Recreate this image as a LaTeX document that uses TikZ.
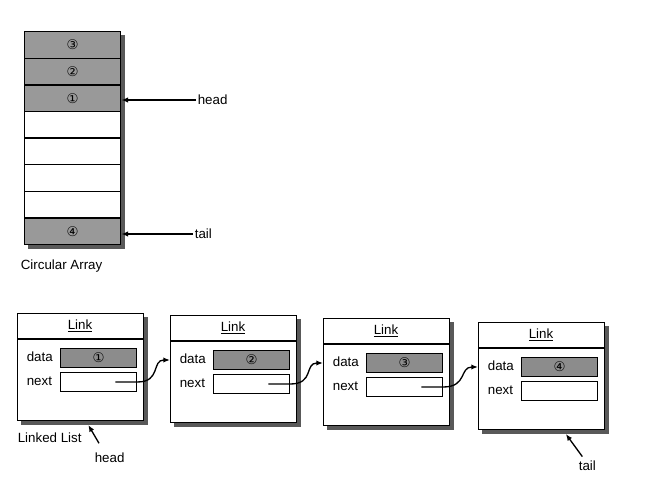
\documentclass[tikz,border=0pt]{standalone}
\usepackage{fontspec}
\setmainfont{Liberation Sans}
\newfontfamily\circfont{DejaVu Sans}
\usetikzlibrary{arrows.meta,backgrounds,calc}

\newcommand{\cnum}[1]{{\circfont\ifcase#1\or ①\or ②\or ③\or ④\fi}}

\tikzset{every picture/.style={line width=0.75pt}}
\tikzset{
  cell/.style={draw, fill=white, line width=1pt, minimum width=72pt, minimum height=20pt, inner sep=0pt, anchor=north west},
  fullcell/.style={cell, fill=black!40},
  linkbox/.style={draw, fill=white, line width=1pt, minimum width=94.5pt, minimum height=80pt, inner sep=0pt, anchor=north west},
  field/.style={draw, line width=1pt, minimum width=57pt, minimum height=14pt, inner sep=0pt, anchor=north west},
  ptr/.style={-{Latex[length=5pt,width=4pt]}, line width=1pt},
  txt/.style={anchor=west, inner sep=1pt},
  shade/.style={fill=black!65},
}

\begin{document}
\begin{tikzpicture}[x=0.75pt,y=0.75pt,yscale=-1,xscale=1]
	\useasboundingbox (0,0) rectangle (650,495);
	
	%Shape: Circular Array cells
	\foreach \k/\sty/\num in {1/fullcell/3, 2/fullcell/2, 3/fullcell/1, 4/cell/0, 5/cell/0, 6/cell/0, 7/cell/0, 8/fullcell/4}
		\node [\sty] (arr\k) at (24,{31+26.6*(\k-1)}) {\cnum{\num}};
	%Shape: shadow of the array
	\begin{scope}[on background layer]
		\fill [shade] ([xshift=3pt,yshift=3pt]arr1.north west) rectangle ([xshift=3pt,yshift=3pt]arr8.south east);
	\end{scope}
	
	% Text Node
	\node [txt] (arrhead) at (196,100) {head};
	% Text Node
	\node [txt] (arrtail) at (193,234) {tail};
	% Text Node
	\node [txt] (arrname) at (19,266) {Circular Array};
	%Straight Lines
	\draw [ptr] (arrhead.west) -- (arr3.east |- arrhead.west);
	%Straight Lines
	\draw [ptr] (arrtail.west) -- (arr8.east |- arrtail.west);
	
	%Shape: Link boxes
	\foreach \i/\x/\y in {1/17/313, 2/170/315, 3/323/318, 4/478/322}{
		\node [linkbox] (link\i) at (\x,\y) {};
		\begin{scope}[on background layer]
			\fill [shade] ([xshift=3pt,yshift=3pt]link\i.north west) rectangle ([xshift=3pt,yshift=3pt]link\i.south east);
		\end{scope}
		\draw [line width=1pt] ([yshift=19.5pt]link\i.north west) -- ([yshift=19.5pt]link\i.north east);
		\node (title\i) at (\x+63,\y+13) {\underline{Link}};
		\node [txt] (dlab\i) at (\x+8,\y+44) {data};
		\node [field, fill=black!45] (data\i) at (\x+43,\y+35) {\cnum{\i}};
		\node [txt] (nlab\i) at (\x+8,\y+68) {next};
		\node [field] (next\i) at (\x+43,\y+59) {};
	}
	%Curve Lines: next pointers
	\foreach \i/\j in {1/2, 2/3, 3/4}
		\draw [ptr] ([xshift=-16.5pt]next\i.east) -- (next\i.east)
			.. controls ([xshift=18pt]next\i.east) and ([xshift=-14pt]link\j.west |- data\j.center) .. (link\j.west |- data\j.center);
	
	% Text Node
	\node [txt] (llname) at (16,438) {Linked List};
	% Text Node
	\node [txt] (llhead) at (93,458) {head};
	% Text Node
	\node [txt] (lltail) at (577,466) {tail};
	\coordinate (headtip) at ([yshift=3pt]$(link1.south west)!0.56!(link1.south east)$);
	\coordinate (tailtip) at ([yshift=3pt]$(link4.south west)!0.69!(link4.south east)$);
	%Straight Lines
	\draw [ptr] ([xshift=4.5pt,yshift=-6pt]llhead.north west) -- (headtip);
	%Straight Lines
	\draw [ptr] ([xshift=4pt,yshift=-2pt]lltail.north west) -- (tailtip);
	
\end{tikzpicture}
\end{document}
